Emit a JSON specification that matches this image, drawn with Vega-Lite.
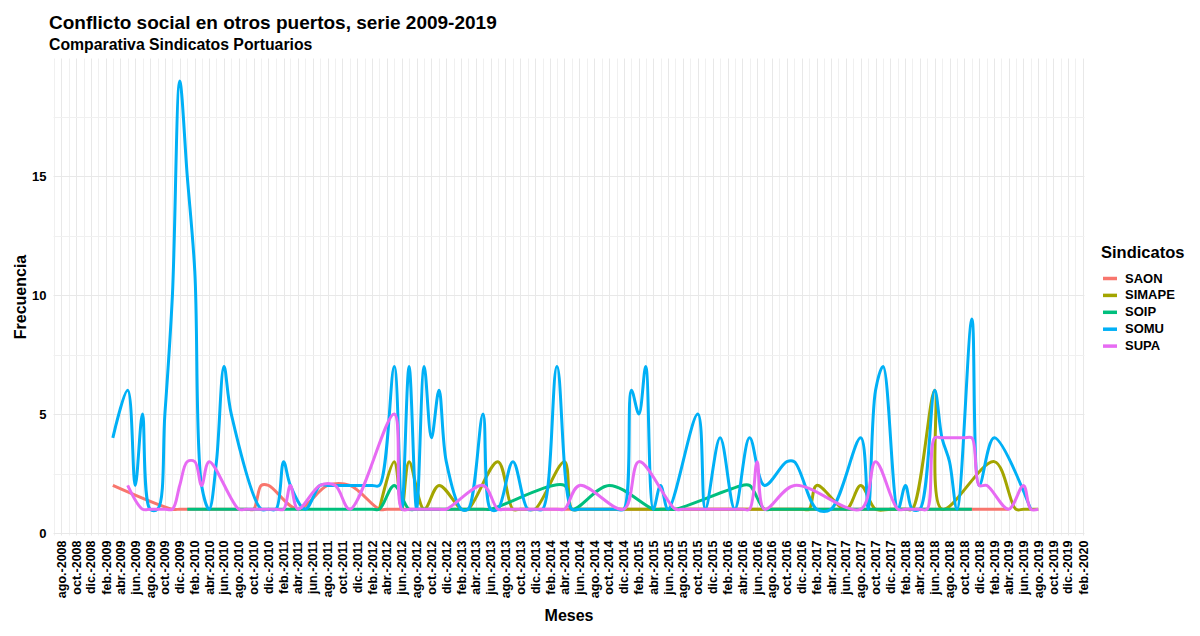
{
  "$schema": "https://vega.github.io/schema/vega-lite/v6.json",
  "width": 1031,
  "height": 477,
  "autosize": {"type": "none"},
  "padding": {"left": 53, "top": 58, "right": 116, "bottom": 101},
  "background": "white",
  "config": {"view": {"stroke": null}, "font": "Liberation Sans"},
  "title": {
    "text": "Conflicto social en otros puertos, serie 2009-2019",
    "subtitle": "Comparativa Sindicatos Portuarios",
    "anchor": "start", "frame": "group",
    "fontSize": 19, "fontWeight": "bold", "color": "black",
    "subtitleFontSize": 15.8, "subtitleFontWeight": "bold", "subtitleColor": "black",
    "offset": 4, "dx": -4, "dy": -1, "subtitlePadding": 5
  },
  "data": {"values": [
    {"sindicato": "SAON", "mes": "2009-03-01", "frecuencia": 2},
    {"sindicato": "SAON", "mes": "2009-11-01", "frecuencia": 1},
    {"sindicato": "SAON", "mes": "2009-12-01", "frecuencia": 1},
    {"sindicato": "SAON", "mes": "2010-01-01", "frecuencia": 1},
    {"sindicato": "SAON", "mes": "2010-09-01", "frecuencia": 1},
    {"sindicato": "SAON", "mes": "2010-10-01", "frecuencia": 1},
    {"sindicato": "SAON", "mes": "2010-11-01", "frecuencia": 2},
    {"sindicato": "SAON", "mes": "2010-12-01", "frecuencia": 2},
    {"sindicato": "SAON", "mes": "2011-04-01", "frecuencia": 1},
    {"sindicato": "SAON", "mes": "2011-08-01", "frecuencia": 2},
    {"sindicato": "SAON", "mes": "2011-11-01", "frecuencia": 2},
    {"sindicato": "SAON", "mes": "2012-03-01", "frecuencia": 1},
    {"sindicato": "SAON", "mes": "2012-04-01", "frecuencia": 1},
    {"sindicato": "SAON", "mes": "2012-06-01", "frecuencia": 1},
    {"sindicato": "SAON", "mes": "2018-11-01", "frecuencia": 1},
    {"sindicato": "SAON", "mes": "2019-04-01", "frecuencia": 1},

    {"sindicato": "SIMAPE", "mes": "2012-03-01", "frecuencia": 1},
    {"sindicato": "SIMAPE", "mes": "2012-05-01", "frecuencia": 3},
    {"sindicato": "SIMAPE", "mes": "2012-06-01", "frecuencia": 1},
    {"sindicato": "SIMAPE", "mes": "2012-07-01", "frecuencia": 3},
    {"sindicato": "SIMAPE", "mes": "2012-09-01", "frecuencia": 1},
    {"sindicato": "SIMAPE", "mes": "2012-11-01", "frecuencia": 2},
    {"sindicato": "SIMAPE", "mes": "2013-02-01", "frecuencia": 1},
    {"sindicato": "SIMAPE", "mes": "2013-03-01", "frecuencia": 1},
    {"sindicato": "SIMAPE", "mes": "2013-07-01", "frecuencia": 3},
    {"sindicato": "SIMAPE", "mes": "2013-09-01", "frecuencia": 1},
    {"sindicato": "SIMAPE", "mes": "2013-10-01", "frecuencia": 1},
    {"sindicato": "SIMAPE", "mes": "2013-11-01", "frecuencia": 1},
    {"sindicato": "SIMAPE", "mes": "2013-12-01", "frecuencia": 1},
    {"sindicato": "SIMAPE", "mes": "2014-04-01", "frecuencia": 3},
    {"sindicato": "SIMAPE", "mes": "2014-05-01", "frecuencia": 1},
    {"sindicato": "SIMAPE", "mes": "2014-06-01", "frecuencia": 1},
    {"sindicato": "SIMAPE", "mes": "2014-10-01", "frecuencia": 1},
    {"sindicato": "SIMAPE", "mes": "2015-02-01", "frecuencia": 1},
    {"sindicato": "SIMAPE", "mes": "2015-06-01", "frecuencia": 1},
    {"sindicato": "SIMAPE", "mes": "2015-10-01", "frecuencia": 1},
    {"sindicato": "SIMAPE", "mes": "2016-02-01", "frecuencia": 1},
    {"sindicato": "SIMAPE", "mes": "2016-06-01", "frecuencia": 1},
    {"sindicato": "SIMAPE", "mes": "2016-10-01", "frecuencia": 1},
    {"sindicato": "SIMAPE", "mes": "2016-12-01", "frecuencia": 1},
    {"sindicato": "SIMAPE", "mes": "2017-01-01", "frecuencia": 1},
    {"sindicato": "SIMAPE", "mes": "2017-02-01", "frecuencia": 2},
    {"sindicato": "SIMAPE", "mes": "2017-06-01", "frecuencia": 1},
    {"sindicato": "SIMAPE", "mes": "2017-08-01", "frecuencia": 2},
    {"sindicato": "SIMAPE", "mes": "2017-10-01", "frecuencia": 1},
    {"sindicato": "SIMAPE", "mes": "2017-12-01", "frecuencia": 1},
    {"sindicato": "SIMAPE", "mes": "2018-02-01", "frecuencia": 1},
    {"sindicato": "SIMAPE", "mes": "2018-03-01", "frecuencia": 1},
    {"sindicato": "SIMAPE", "mes": "2018-06-01", "frecuencia": 6},
    {"sindicato": "SIMAPE", "mes": "2018-07-01", "frecuencia": 1},
    {"sindicato": "SIMAPE", "mes": "2019-02-01", "frecuencia": 3},
    {"sindicato": "SIMAPE", "mes": "2019-05-01", "frecuencia": 1},
    {"sindicato": "SIMAPE", "mes": "2019-06-01", "frecuencia": 1},
    {"sindicato": "SIMAPE", "mes": "2019-08-01", "frecuencia": 1},

    {"sindicato": "SOIP", "mes": "2010-01-01", "frecuencia": 1},
    {"sindicato": "SOIP", "mes": "2010-02-01", "frecuencia": 1},
    {"sindicato": "SOIP", "mes": "2010-06-01", "frecuencia": 1},
    {"sindicato": "SOIP", "mes": "2010-10-01", "frecuencia": 1},
    {"sindicato": "SOIP", "mes": "2011-02-01", "frecuencia": 1},
    {"sindicato": "SOIP", "mes": "2011-06-01", "frecuencia": 1},
    {"sindicato": "SOIP", "mes": "2011-10-01", "frecuencia": 1},
    {"sindicato": "SOIP", "mes": "2012-02-01", "frecuencia": 1},
    {"sindicato": "SOIP", "mes": "2012-03-01", "frecuencia": 1},
    {"sindicato": "SOIP", "mes": "2012-05-01", "frecuencia": 2},
    {"sindicato": "SOIP", "mes": "2012-07-01", "frecuencia": 1},
    {"sindicato": "SOIP", "mes": "2012-08-01", "frecuencia": 1},
    {"sindicato": "SOIP", "mes": "2012-12-01", "frecuencia": 1},
    {"sindicato": "SOIP", "mes": "2013-05-01", "frecuencia": 1},
    {"sindicato": "SOIP", "mes": "2013-06-01", "frecuencia": 1},
    {"sindicato": "SOIP", "mes": "2014-04-01", "frecuencia": 2},
    {"sindicato": "SOIP", "mes": "2014-05-01", "frecuencia": 1},
    {"sindicato": "SOIP", "mes": "2014-10-01", "frecuencia": 2},
    {"sindicato": "SOIP", "mes": "2015-04-01", "frecuencia": 1},
    {"sindicato": "SOIP", "mes": "2015-05-01", "frecuencia": 1},
    {"sindicato": "SOIP", "mes": "2015-06-01", "frecuencia": 1},
    {"sindicato": "SOIP", "mes": "2015-07-01", "frecuencia": 1},
    {"sindicato": "SOIP", "mes": "2016-04-01", "frecuencia": 2},
    {"sindicato": "SOIP", "mes": "2016-05-01", "frecuencia": 2},
    {"sindicato": "SOIP", "mes": "2016-07-01", "frecuencia": 1},
    {"sindicato": "SOIP", "mes": "2016-08-01", "frecuencia": 1},
    {"sindicato": "SOIP", "mes": "2016-12-01", "frecuencia": 1},
    {"sindicato": "SOIP", "mes": "2017-04-01", "frecuencia": 1},
    {"sindicato": "SOIP", "mes": "2017-08-01", "frecuencia": 1},
    {"sindicato": "SOIP", "mes": "2017-12-01", "frecuencia": 1},
    {"sindicato": "SOIP", "mes": "2018-04-01", "frecuencia": 1},
    {"sindicato": "SOIP", "mes": "2018-08-01", "frecuencia": 1},
    {"sindicato": "SOIP", "mes": "2018-10-01", "frecuencia": 1},
    {"sindicato": "SOIP", "mes": "2018-11-01", "frecuencia": 1},

    {"sindicato": "SOMU", "mes": "2009-03-01", "frecuencia": 4},
    {"sindicato": "SOMU", "mes": "2009-05-01", "frecuencia": 6},
    {"sindicato": "SOMU", "mes": "2009-06-01", "frecuencia": 2},
    {"sindicato": "SOMU", "mes": "2009-07-01", "frecuencia": 5},
    {"sindicato": "SOMU", "mes": "2009-08-01", "frecuencia": 1},
    {"sindicato": "SOMU", "mes": "2009-09-01", "frecuencia": 1},
    {"sindicato": "SOMU", "mes": "2009-10-01", "frecuencia": 5},
    {"sindicato": "SOMU", "mes": "2009-11-01", "frecuencia": 10},
    {"sindicato": "SOMU", "mes": "2009-12-01", "frecuencia": 19},
    {"sindicato": "SOMU", "mes": "2010-01-01", "frecuencia": 15},
    {"sindicato": "SOMU", "mes": "2010-02-01", "frecuencia": 11},
    {"sindicato": "SOMU", "mes": "2010-03-01", "frecuencia": 2},
    {"sindicato": "SOMU", "mes": "2010-04-01", "frecuencia": 1},
    {"sindicato": "SOMU", "mes": "2010-05-01", "frecuencia": 3},
    {"sindicato": "SOMU", "mes": "2010-06-01", "frecuencia": 7},
    {"sindicato": "SOMU", "mes": "2010-07-01", "frecuencia": 5},
    {"sindicato": "SOMU", "mes": "2010-11-01", "frecuencia": 1},
    {"sindicato": "SOMU", "mes": "2010-12-01", "frecuencia": 1},
    {"sindicato": "SOMU", "mes": "2011-01-01", "frecuencia": 1},
    {"sindicato": "SOMU", "mes": "2011-02-01", "frecuencia": 3},
    {"sindicato": "SOMU", "mes": "2011-03-01", "frecuencia": 2},
    {"sindicato": "SOMU", "mes": "2011-05-01", "frecuencia": 1},
    {"sindicato": "SOMU", "mes": "2011-07-01", "frecuencia": 2},
    {"sindicato": "SOMU", "mes": "2011-08-01", "frecuencia": 2},
    {"sindicato": "SOMU", "mes": "2011-10-01", "frecuencia": 2},
    {"sindicato": "SOMU", "mes": "2011-12-01", "frecuencia": 2},
    {"sindicato": "SOMU", "mes": "2012-02-01", "frecuencia": 2},
    {"sindicato": "SOMU", "mes": "2012-03-01", "frecuencia": 2},
    {"sindicato": "SOMU", "mes": "2012-05-01", "frecuencia": 7},
    {"sindicato": "SOMU", "mes": "2012-06-01", "frecuencia": 1},
    {"sindicato": "SOMU", "mes": "2012-07-01", "frecuencia": 7},
    {"sindicato": "SOMU", "mes": "2012-08-01", "frecuencia": 1},
    {"sindicato": "SOMU", "mes": "2012-09-01", "frecuencia": 7},
    {"sindicato": "SOMU", "mes": "2012-10-01", "frecuencia": 4},
    {"sindicato": "SOMU", "mes": "2012-11-01", "frecuencia": 6},
    {"sindicato": "SOMU", "mes": "2012-12-01", "frecuencia": 3},
    {"sindicato": "SOMU", "mes": "2013-02-01", "frecuencia": 1},
    {"sindicato": "SOMU", "mes": "2013-03-01", "frecuencia": 1},
    {"sindicato": "SOMU", "mes": "2013-05-01", "frecuencia": 5},
    {"sindicato": "SOMU", "mes": "2013-06-01", "frecuencia": 1},
    {"sindicato": "SOMU", "mes": "2013-07-01", "frecuencia": 1},
    {"sindicato": "SOMU", "mes": "2013-09-01", "frecuencia": 3},
    {"sindicato": "SOMU", "mes": "2013-11-01", "frecuencia": 1},
    {"sindicato": "SOMU", "mes": "2013-12-01", "frecuencia": 1},
    {"sindicato": "SOMU", "mes": "2014-01-01", "frecuencia": 1},
    {"sindicato": "SOMU", "mes": "2014-03-01", "frecuencia": 7},
    {"sindicato": "SOMU", "mes": "2014-05-01", "frecuencia": 1},
    {"sindicato": "SOMU", "mes": "2014-06-01", "frecuencia": 1},
    {"sindicato": "SOMU", "mes": "2014-09-01", "frecuencia": 1},
    {"sindicato": "SOMU", "mes": "2014-11-01", "frecuencia": 1},
    {"sindicato": "SOMU", "mes": "2014-12-01", "frecuencia": 1},
    {"sindicato": "SOMU", "mes": "2015-01-01", "frecuencia": 6},
    {"sindicato": "SOMU", "mes": "2015-02-01", "frecuencia": 5},
    {"sindicato": "SOMU", "mes": "2015-03-01", "frecuencia": 7},
    {"sindicato": "SOMU", "mes": "2015-04-01", "frecuencia": 1},
    {"sindicato": "SOMU", "mes": "2015-05-01", "frecuencia": 2},
    {"sindicato": "SOMU", "mes": "2015-06-01", "frecuencia": 1},
    {"sindicato": "SOMU", "mes": "2015-10-01", "frecuencia": 5},
    {"sindicato": "SOMU", "mes": "2015-11-01", "frecuencia": 1},
    {"sindicato": "SOMU", "mes": "2016-01-01", "frecuencia": 4},
    {"sindicato": "SOMU", "mes": "2016-03-01", "frecuencia": 1},
    {"sindicato": "SOMU", "mes": "2016-05-01", "frecuencia": 4},
    {"sindicato": "SOMU", "mes": "2016-07-01", "frecuencia": 2},
    {"sindicato": "SOMU", "mes": "2016-10-01", "frecuencia": 3},
    {"sindicato": "SOMU", "mes": "2016-11-01", "frecuencia": 3},
    {"sindicato": "SOMU", "mes": "2017-02-01", "frecuencia": 1},
    {"sindicato": "SOMU", "mes": "2017-04-01", "frecuencia": 1},
    {"sindicato": "SOMU", "mes": "2017-08-01", "frecuencia": 4},
    {"sindicato": "SOMU", "mes": "2017-09-01", "frecuencia": 1},
    {"sindicato": "SOMU", "mes": "2017-10-01", "frecuencia": 6},
    {"sindicato": "SOMU", "mes": "2017-11-01", "frecuencia": 7},
    {"sindicato": "SOMU", "mes": "2018-01-01", "frecuencia": 1},
    {"sindicato": "SOMU", "mes": "2018-02-01", "frecuencia": 2},
    {"sindicato": "SOMU", "mes": "2018-03-01", "frecuencia": 1},
    {"sindicato": "SOMU", "mes": "2018-04-01", "frecuencia": 1},
    {"sindicato": "SOMU", "mes": "2018-06-01", "frecuencia": 6},
    {"sindicato": "SOMU", "mes": "2018-07-01", "frecuencia": 4},
    {"sindicato": "SOMU", "mes": "2018-08-01", "frecuencia": 3},
    {"sindicato": "SOMU", "mes": "2018-09-01", "frecuencia": 1},
    {"sindicato": "SOMU", "mes": "2018-11-01", "frecuencia": 9},
    {"sindicato": "SOMU", "mes": "2018-12-01", "frecuencia": 2},
    {"sindicato": "SOMU", "mes": "2019-02-01", "frecuencia": 4},
    {"sindicato": "SOMU", "mes": "2019-07-01", "frecuencia": 1},

    {"sindicato": "SUPA", "mes": "2009-05-01", "frecuencia": 2},
    {"sindicato": "SUPA", "mes": "2009-07-01", "frecuencia": 1},
    {"sindicato": "SUPA", "mes": "2009-08-01", "frecuencia": 1},
    {"sindicato": "SUPA", "mes": "2009-09-01", "frecuencia": 1},
    {"sindicato": "SUPA", "mes": "2009-10-01", "frecuencia": 1},
    {"sindicato": "SUPA", "mes": "2009-11-01", "frecuencia": 1},
    {"sindicato": "SUPA", "mes": "2009-12-01", "frecuencia": 2},
    {"sindicato": "SUPA", "mes": "2010-01-01", "frecuencia": 3},
    {"sindicato": "SUPA", "mes": "2010-02-01", "frecuencia": 3},
    {"sindicato": "SUPA", "mes": "2010-03-01", "frecuencia": 2},
    {"sindicato": "SUPA", "mes": "2010-04-01", "frecuencia": 3},
    {"sindicato": "SUPA", "mes": "2010-08-01", "frecuencia": 1},
    {"sindicato": "SUPA", "mes": "2010-09-01", "frecuencia": 1},
    {"sindicato": "SUPA", "mes": "2011-01-01", "frecuencia": 1},
    {"sindicato": "SUPA", "mes": "2011-02-01", "frecuencia": 1},
    {"sindicato": "SUPA", "mes": "2011-03-01", "frecuencia": 2},
    {"sindicato": "SUPA", "mes": "2011-04-01", "frecuencia": 1},
    {"sindicato": "SUPA", "mes": "2011-07-01", "frecuencia": 2},
    {"sindicato": "SUPA", "mes": "2011-09-01", "frecuencia": 2},
    {"sindicato": "SUPA", "mes": "2011-11-01", "frecuencia": 1},
    {"sindicato": "SUPA", "mes": "2012-05-01", "frecuencia": 5},
    {"sindicato": "SUPA", "mes": "2012-06-01", "frecuencia": 1},
    {"sindicato": "SUPA", "mes": "2012-07-01", "frecuencia": 1},
    {"sindicato": "SUPA", "mes": "2012-11-01", "frecuencia": 1},
    {"sindicato": "SUPA", "mes": "2012-12-01", "frecuencia": 1},
    {"sindicato": "SUPA", "mes": "2013-05-01", "frecuencia": 2},
    {"sindicato": "SUPA", "mes": "2013-07-01", "frecuencia": 1},
    {"sindicato": "SUPA", "mes": "2013-08-01", "frecuencia": 1},
    {"sindicato": "SUPA", "mes": "2014-03-01", "frecuencia": 1},
    {"sindicato": "SUPA", "mes": "2014-04-01", "frecuencia": 1},
    {"sindicato": "SUPA", "mes": "2014-06-01", "frecuencia": 2},
    {"sindicato": "SUPA", "mes": "2014-12-01", "frecuencia": 1},
    {"sindicato": "SUPA", "mes": "2015-02-01", "frecuencia": 3},
    {"sindicato": "SUPA", "mes": "2015-07-01", "frecuencia": 1},
    {"sindicato": "SUPA", "mes": "2015-08-01", "frecuencia": 1},
    {"sindicato": "SUPA", "mes": "2015-12-01", "frecuencia": 1},
    {"sindicato": "SUPA", "mes": "2016-04-01", "frecuencia": 1},
    {"sindicato": "SUPA", "mes": "2016-05-01", "frecuencia": 1},
    {"sindicato": "SUPA", "mes": "2016-06-01", "frecuencia": 3},
    {"sindicato": "SUPA", "mes": "2016-07-01", "frecuencia": 1},
    {"sindicato": "SUPA", "mes": "2016-11-01", "frecuencia": 2},
    {"sindicato": "SUPA", "mes": "2017-08-01", "frecuencia": 1},
    {"sindicato": "SUPA", "mes": "2017-10-01", "frecuencia": 3},
    {"sindicato": "SUPA", "mes": "2018-01-01", "frecuencia": 1},
    {"sindicato": "SUPA", "mes": "2018-02-01", "frecuencia": 1},
    {"sindicato": "SUPA", "mes": "2018-04-01", "frecuencia": 1},
    {"sindicato": "SUPA", "mes": "2018-05-01", "frecuencia": 1},
    {"sindicato": "SUPA", "mes": "2018-06-01", "frecuencia": 4},
    {"sindicato": "SUPA", "mes": "2018-07-01", "frecuencia": 4},
    {"sindicato": "SUPA", "mes": "2018-08-01", "frecuencia": 4},
    {"sindicato": "SUPA", "mes": "2018-09-01", "frecuencia": 4},
    {"sindicato": "SUPA", "mes": "2018-10-01", "frecuencia": 4},
    {"sindicato": "SUPA", "mes": "2018-11-01", "frecuencia": 4},
    {"sindicato": "SUPA", "mes": "2018-12-01", "frecuencia": 2},
    {"sindicato": "SUPA", "mes": "2019-01-01", "frecuencia": 2},
    {"sindicato": "SUPA", "mes": "2019-04-01", "frecuencia": 1},
    {"sindicato": "SUPA", "mes": "2019-06-01", "frecuencia": 2},
    {"sindicato": "SUPA", "mes": "2019-07-01", "frecuencia": 1},
    {"sindicato": "SUPA", "mes": "2019-08-01", "frecuencia": 1}
  ]},
  "mark": {"type": "line", "interpolate": "catmull-rom", "strokeWidth": 3},
  "encoding": {
    "x": {
      "field": "mes", "type": "temporal",
      "scale": {"type": "utc", "nice": false,
        "domain": [{"year": 2008, "month": 6, "date": 28, "utc": true}, {"year": 2020, "month": 2, "date": 5, "utc": true}]},
      "axis": {
        "title": "Meses", "titleFontSize": 16, "titleFontWeight": "bold", "titleColor": "black", "titlePadding": 9.5,
        "tickCount": {"interval": "month", "step": 1},
        "labelExpr": "utcmonth(datum.value) % 2 == 1 ? ['ene.','feb.','mar.','abr.','may.','jun.','jul.','ago.','sept.','oct.','nov.','dic.'][utcmonth(datum.value)] + '-' + utcyear(datum.value) : ''",
        "labelAngle": 270, "labelAlign": "right", "labelBaseline": "middle",
        "labelFontSize": 12.5, "labelFontWeight": "bold", "labelColor": "black", "labelPadding": 5,
        "labelOverlap": false, "labelBound": false, "labelFlush": false,
        "ticks": false, "domain": false, "grid": true,
        "gridColor": {"condition": {"test": "utcmonth(datum.value) % 2 == 1", "value": "#e8e8e8"}, "value": "#f0f0f0"},
        "gridWidth": 1
      }
    },
    "y": {
      "field": "frecuencia", "type": "quantitative",
      "scale": {"domain": [-0.084, 19.97], "nice": false, "zero": false},
      "axis": {
        "title": "Frecuencia", "titleFontSize": 16, "titleFontWeight": "bold", "titleColor": "black",
        "titleX": -33, "titleBaseline": "middle",
        "values": [0, 2.5, 5, 7.5, 10, 12.5, 15, 17.5],
        "labelExpr": "datum.value % 5 == 0 ? datum.label : ''",
        "labelFontSize": 13, "labelFontWeight": "bold", "labelColor": "black", "labelPadding": 7,
        "ticks": false, "domain": false, "grid": true,
        "gridColor": {"condition": {"test": "datum.value % 5 == 0", "value": "#e8e8e8"}, "value": "#f0f0f0"},
        "gridWidth": 1
      }
    },
    "color": {
      "field": "sindicato", "type": "nominal",
      "scale": {"domain": ["SAON", "SIMAPE", "SOIP", "SOMU", "SUPA"], "range": ["#F8766D", "#A3A500", "#00BF7D", "#00B0F6", "#E76BF3"]},
      "legend": {
        "orient": "none", "legendX": 1048, "legendY": 187,
        "title": "Sindicatos", "titleFontSize": 16.5, "titleFontWeight": "bold", "titleColor": "black", "titlePadding": 8,
        "labelFontSize": 13, "labelFontWeight": "bold", "labelColor": "black", "labelOffset": 6,
        "symbolType": "stroke", "symbolStrokeWidth": 3.5, "symbolSize": 196, "rowPadding": 0.9
      }
    }
  }
}
